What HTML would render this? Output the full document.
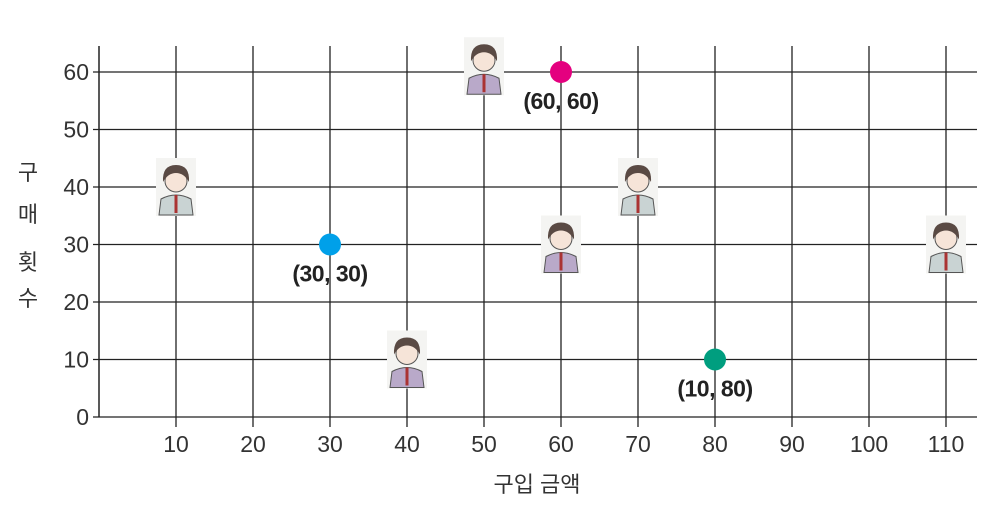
<!DOCTYPE html>
<html><head><meta charset="utf-8"><style>
body{margin:0;background:#fff;}
svg{display:block;font-family:"Liberation Sans","Noto Sans CJK KR",sans-serif;}
</style></head><body>
<svg id="chart" width="994" height="510" viewBox="0 0 994 510"></svg>
<script>
const xTicks=[10,20,30,40,50,60,70,80,90,100,110];
const yTicks=[0,10,20,30,40,50,60];
const dotX=[30,60,80];
const dotY=[30,60,10];
const dotLabels=["(30, 30)","(60, 60)","(10, 80)"];
const dotColors=["#00a0e9","#e4007f","#009e7f"];
const avatarX=[10,50,70,60,110,40];
const avatarY=[40,61,40,30,30,10];

const svg=document.getElementById('chart');
const NS='http://www.w3.org/2000/svg';
const sx=v=>99+v*7.7;
const sy=v=>417-v*5.75;
function mk(tag,attrs,parent){const e=document.createElementNS(NS,tag);for(const k in attrs)e.setAttribute(k,attrs[k]);(parent||svg).appendChild(e);return e;}

xTicks.forEach(t=>{
  const l=mk('line',{x1:sx(t),x2:sx(t),y1:46,y2:427,stroke:'#222','stroke-width':1.3});
  
  
  const tx=mk('text',{x:sx(t),y:452,'text-anchor':'middle','font-size':23,fill:'#333'});
  tx.textContent=t;
  
  
});
yTicks.forEach(t=>{
  const l=mk('line',{x1:93,x2:977,y1:sy(t),y2:sy(t),stroke:'#222','stroke-width':1.3});
  
  
  const tx=mk('text',{x:89,y:sy(t)+8,'text-anchor':'end','font-size':23,fill:'#333'});
  tx.textContent=t;
  
  
});
const ax=mk('line',{x1:99,x2:99,y1:46,y2:417,stroke:'#222','stroke-width':1.5});



const xt=mk('text',{x:537,y:492,'text-anchor':'middle','font-size':22,fill:'#333'});
xt.textContent='구입 금액';


const yg=mk('g',{});


[['구',180],['매',222],['횟',270],['수',306]].forEach(([c,y])=>{const t=mk('text',{x:28,y:y,'text-anchor':'middle','font-size':22,fill:'#333'},yg);t.textContent=c;});

avatarX.forEach((v,i)=>{
  const cx=sx(v),cy=sy(avatarY[i]);
  const g=mk('g',{transform:`translate(${cx},${cy})`});
  
  
  mk('rect',{x:-20,y:-29,width:40,height:58,fill:'#f4f4f2'},g);
  mk('path',{d:'M-17 28 L-15 12 Q0 4 15 12 L17 28 Z',fill:i%2?'#b9a9c9':'#c9d3d3',stroke:'#555','stroke-width':1},g);
  mk('circle',{cx:0,cy:-6,r:11,fill:'#f6e4d8',stroke:'#555','stroke-width':1},g);
  mk('path',{d:'M-13 -5 Q-14 -22 0 -22 Q14 -22 13 -5 Q8 -14 0 -14 Q-8 -14 -13 -5Z',fill:'#5a4a44'},g);
  mk('line',{x1:0,y1:8,x2:0,y2:26,stroke:'#a33','stroke-width':3},g);
});

dotX.forEach((v,i)=>{
  const c=mk('circle',{cx:sx(v),cy:sy(dotY[i]),r:11,fill:dotColors[i]});
  
  
  const t=mk('text',{x:sx(v),y:sy(dotY[i])+37,'text-anchor':'middle','font-size':23,fill:'#222','font-weight':'bold','letter-spacing':'-0.5'});
  t.textContent=dotLabels[i];
  
  
});
</script>
</body></html>
